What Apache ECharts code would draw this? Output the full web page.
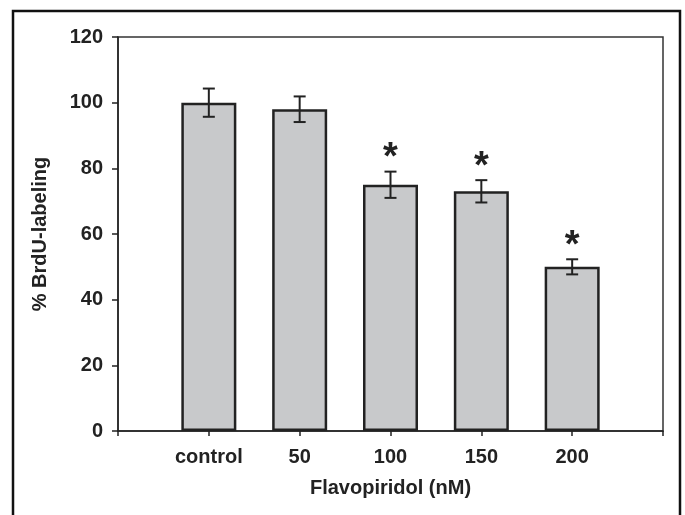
<!DOCTYPE html>
<html>
<head>
<meta charset="utf-8">
<script src="https://cdn.jsdelivr.net/npm/echarts@6/dist/echarts.min.js"></script>
<style>
html,body{margin:0;padding:0;background:#fff;}
#chart{width:685px;height:515px;}
</style>
</head>
<body>
<div id="chart"></div>
<script>
const categories = ['control', '50', '100', '150', '200'];
const values = [100, 98, 75, 73, 50];
const errors = [4.3, 3.9, 4.0, 3.4, 2.3];
const significant = [false, false, true, true, true];
const yTicks = [0, 20, 40, 60, 80, 100, 120];

const axisCats = [''].concat(categories, ['']);
const barData = [null].concat(values, [null]);
const errData = categories.map((c, i) => [i + 1, values[i], errors[i], significant[i] ? 1 : 0]);

const FONT = '"Liberation Sans", Arial, sans-serif';
const chart = echarts.init(document.getElementById('chart'), null, {renderer: 'canvas'});
chart.setOption({
  animation: false,
  backgroundColor: '#fff',
  graphic: [{
    type: 'polyline',
    shape: {points: [[13, 515], [13, 11], [680, 11], [680, 515]]},
    style: {stroke: '#111', lineWidth: 2.5, fill: null}
  }],
  grid: {left: 118, right: 22, top: 37, bottom: 84, show: true, borderColor: '#333', borderWidth: 1.5, containLabel: false},
  xAxis: {
    type: 'category',
    data: axisCats,
    boundaryGap: false,
    name: 'Flavopiridol (nM)',
    nameLocation: 'middle',
    nameGap: 47,
    nameTextStyle: {fontFamily: FONT, fontWeight: 'bold', fontSize: 20, color: '#222'},
    axisLine: {lineStyle: {color: '#222', width: 1.5}},
    axisTick: {show: true, length: 5, alignWithLabel: true, lineStyle: {color: '#222', width: 1.5}},
    axisLabel: {fontFamily: FONT, fontWeight: 'bold', fontSize: 20, color: '#222', margin: 16, interval: 0},
    splitLine: {show: false}
  },
  yAxis: {
    type: 'value',
    min: yTicks[0],
    max: yTicks[yTicks.length - 1],
    interval: 20,
    name: '% BrdU-labeling',
    nameLocation: 'middle',
    nameGap: 68,
    nameTextStyle: {fontFamily: FONT, fontWeight: 'bold', fontSize: 20, color: '#222'},
    axisLine: {show: true, lineStyle: {color: '#222', width: 1.5}},
    axisTick: {show: true, length: 6, lineStyle: {color: '#222', width: 1.5}},
    axisLabel: {fontFamily: FONT, fontWeight: 'bold', fontSize: 20, color: '#222', margin: 15},
    splitLine: {show: false}
  },
  series: [
    {
      type: 'bar',
      data: barData,
      barWidth: 55,
      itemStyle: {color: '#c8c9cb', borderColor: '#222', borderWidth: 2.5}
    },
    {
      type: 'custom',
      data: errData,
      z: 10,
      renderItem: function (params, api) {
        const x = api.value(0), v = api.value(1), e = api.value(2), s = api.value(3);
        const top = api.coord([x, v + e]);
        const bot = api.coord([x, v - e]);
        const cap = 6;
        const st = {stroke: '#222', lineWidth: 2};
        const children = [
          {type: 'line', shape: {x1: top[0], y1: top[1], x2: bot[0], y2: bot[1]}, style: st},
          {type: 'line', shape: {x1: top[0] - cap, y1: top[1], x2: top[0] + cap, y2: top[1]}, style: st},
          {type: 'line', shape: {x1: bot[0] - cap, y1: bot[1], x2: bot[0] + cap, y2: bot[1]}, style: st}
        ];
        if (s) {
          children.push({type: 'text', style: {text: '*', x: top[0], y: top[1] + 6, align: 'center', verticalAlign: 'bottom', font: 'bold 38px ' + FONT, fill: '#222'}});
        }
        return {type: 'group', children: children};
      }
    }
  ]
});
</script>
</body>
</html>
